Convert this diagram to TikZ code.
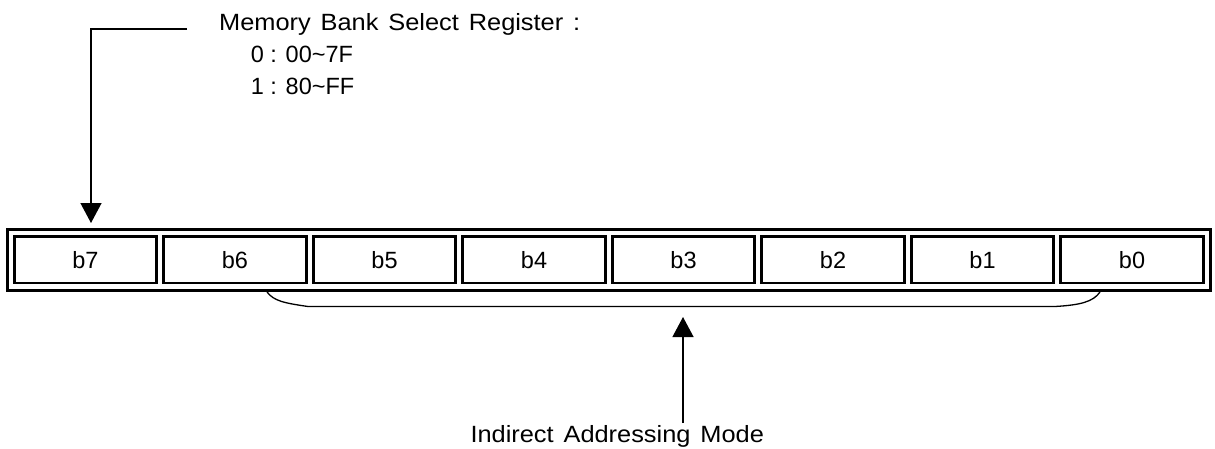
\documentclass[tikz,border=0pt]{standalone}
\usepackage{fontspec}
\setmainfont{Liberation Sans}
\newfontfamily\widefont{Liberation Sans}[FakeStretch=1.08, WordSpace=1.4]
\usetikzlibrary{arrows.meta,fit}
\begin{document}
\begin{tikzpicture}[x=1pt,y=-1pt,
  lbl/.style={inner sep=0pt, anchor=base west, font=\fontsize{23.5}{27}\selectfont},
  widelbl/.style={lbl, font=\widefont\fontsize{23.5}{27}\selectfont},
  cellbox/.style={draw, line width=2.8pt, minimum width=142.4pt, minimum height=46.3pt, inner sep=0pt, font=\fontsize{23.5}{27}\selectfont},
  framebox/.style={draw, line width=2.8pt, inner sep=5.7pt},
  conn/.style={line width=1.3pt, -{Triangle[length=20pt,width=21pt]}},
  bracestyle/.style={line width=1.3pt}
]
\useasboundingbox (0,0) rectangle (1215,448);
% register cells
\foreach \i/\name in {0/7,1/6,2/5,3/4,4/3,5/2,6/1,7/0}{
  \node[cellbox] (c\name) at ({85.5+149.5*\i},259.85) {b\name};
}
\node[framebox, fit=(c7)(c0)] (frame) {};
% labels
\node[widelbl] (mbsr) at (219,30.5) {Memory Bank Select Register :};
\node[lbl] (mb0) at (250.7,62.5) {0 : 00\textasciitilde 7F};
\node[lbl] (mb1) at (250.7,94) {1 : 80\textasciitilde FF};
\node[widelbl] (iam) at (470.3,442) {Indirect Addressing Mode};
% connectors
\coordinate (mstart) at (187,29);
\coordinate (mtip) at (91,223);
\draw[conn] (mstart) -| (mtip);
\coordinate (istart) at (683,423);
\coordinate (itip) at (683,317);
\draw[conn] (istart) -- (itip);
% brace under b6..b0
\coordinate (bl) at (267,292);
\coordinate (br) at (1100,292);
\draw[bracestyle] (bl) .. controls (274,301) and (284,303) .. (308,306.5)
  -- (1055,306.5) .. controls (1080,305) and (1093,302) .. (br);
\end{tikzpicture}
\end{document}
